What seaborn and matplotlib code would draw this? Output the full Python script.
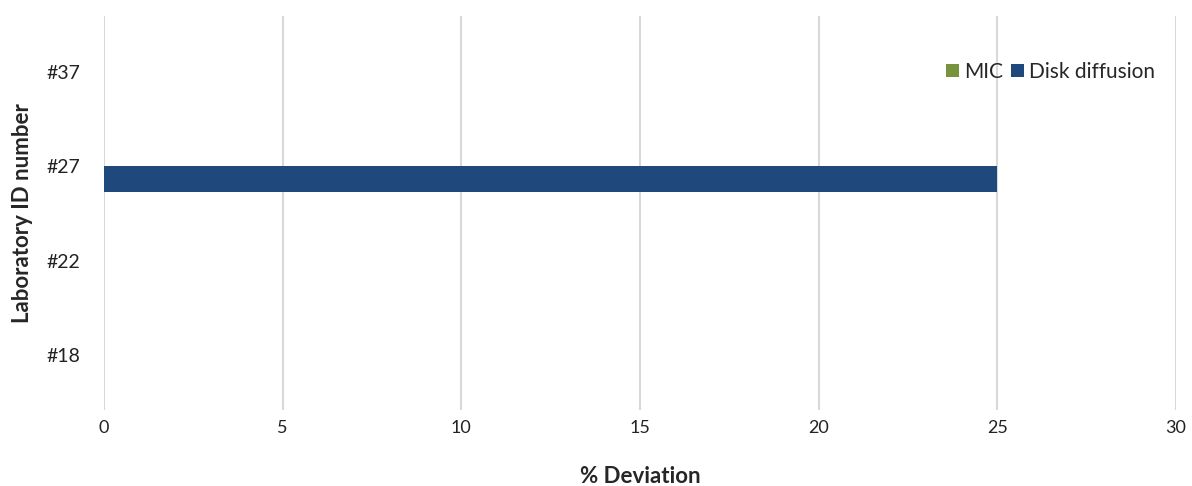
import pandas as pd
import matplotlib
matplotlib.use("Agg")
import matplotlib.pyplot as plt
import seaborn as sns

labs = ["#37", "#27", "#22", "#18"]
mic = [0, 0, 0, 0]
disk = [0, 25, 0, 0]
series = ["MIC", "Disk diffusion"]
colors = ["#77933C", "#1F497D"]

df = pd.DataFrame({
    "lab": labs * 2,
    "value": mic + disk,
    "method": [series[0]] * len(labs) + [series[1]] * len(labs),
})

sns.set_style("white")
plt.rcParams["font.family"] = ["Lato", "DejaVu Sans"]

fig = plt.figure(figsize=(11.92, 4.86), dpi=100)
ax = fig.add_axes([0.0872, 0.156, 0.8994, 0.811])
sns.barplot(data=df, y="lab", x="value", hue="method", order=labs,
            hue_order=series, palette=colors, width=0.55, orient="h",
            saturation=1, linewidth=0, ax=ax)

ax.set_xlim(0, 30)
ax.set_ylim(3.583, -0.594)
ax.set_xticks(range(0, 31, 5))
ax.xaxis.grid(True, color="#D9D9D9", linewidth=1.5)
ax.set_axisbelow(True)
for s in ax.spines.values():
    s.set_visible(False)
ax.tick_params(axis="both", length=0, labelcolor="#222222")
ax.tick_params(axis="x", pad=7, labelsize=13)
ax.tick_params(axis="y", pad=17, labelsize=14)
ax.set_xlabel("% Deviation", fontsize=16, fontweight="bold", labelpad=22)
ax.set_ylabel("Laboratory ID number", fontsize=16, fontweight="bold", labelpad=10)

ax.legend(loc="center right", bbox_to_anchor=(0.988, 0.858), ncol=2, frameon=False,
          fontsize=15, handlelength=0.6, handleheight=0.6, handletextpad=0.25,
          columnspacing=0.4, borderaxespad=0)

fig.savefig("out.png", dpi=100)
